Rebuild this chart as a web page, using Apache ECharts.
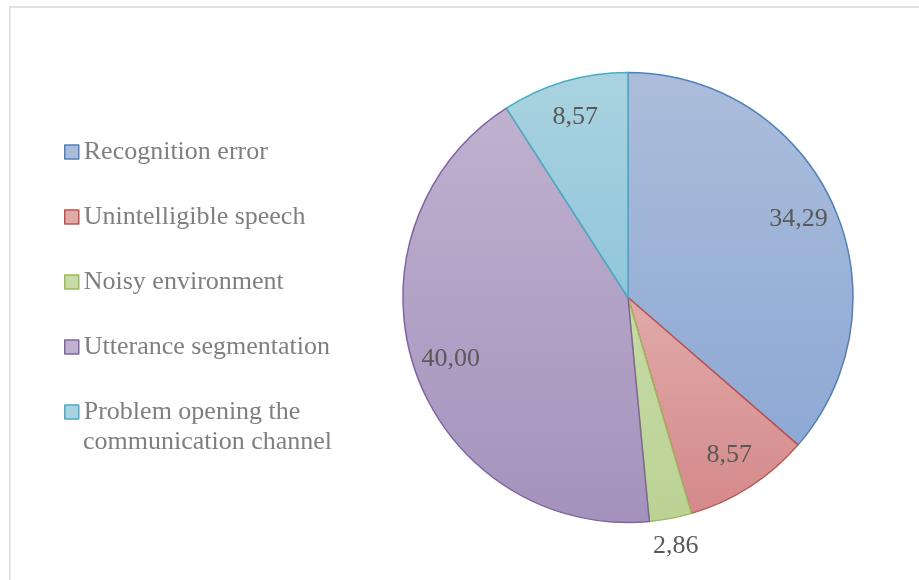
<!DOCTYPE html>
<html>
<head>
<meta charset="utf-8">
<script src="https://cdn.jsdelivr.net/npm/echarts@6/dist/echarts.min.js"></script>
<style>
  html, body { margin: 0; padding: 0; background: #fff; }
  #chart { width: 919px; height: 580px; }
</style>
</head>
<body>
<div id="chart"></div>
<script>
// categories and values (percent), clockwise from 12 o'clock
var categories = [
  'Recognition error',
  'Unintelligible speech',
  'Noisy environment',
  'Utterance segmentation',
  'Problem opening the communication channel'
];
var values = [34.29, 8.57, 2.86, 40.00, 8.57];

// slice colours: gradient top, gradient bottom, border
var topColors = ['#abbdda', '#e0aaa9', '#c7daa8', '#bfb1cf', '#aad3e0'];
var bottomColors = ['#8ea9d5', '#d5898a', '#bcd294', '#a492bc', '#90c6da'];
var borderColors = ['#4f81bd', '#c0504d', '#9bbb59', '#8064a2', '#4bacc6'];

var FONT = '"Liberation Serif", "Times New Roman", serif';
var CX = 628, CY = 297.5, R = 225;
var LEGEND_LEFT = 64, LEGEND_TOP = 137, LINE_H = 30, ITEM_GAP = 35;

// long legend name wraps after this many words, icon stays on line one
var WRAP_WORDS = 3;

function fmt(v) {
  return v.toFixed(2).replace('.', ',');
}

var pieData = categories.map(function (name, i) {
  return {
    name: name,
    value: values[i],
    itemStyle: {
      color: new echarts.graphic.LinearGradient(0, 0, 0, 1, [
        { offset: 0, color: topColors[i] },
        { offset: 1, color: bottomColors[i] }
      ]),
      borderColor: borderColors[i],
      borderWidth: 1.5
    }
  };
});

// transparent copies only used to place the value labels
function labelData(showIdx) {
  return categories.map(function (name, i) {
    return { name: name, value: values[i], label: { show: showIdx(i) } };
  });
}

var legendData = categories.map(function (name, i) {
  return { name: name, itemStyle: { color: topColors[i], borderColor: borderColors[i], borderWidth: 1.5 } };
});

function firstLine(name) {
  var w = name.split(' ');
  return w.length > 4 ? w.slice(0, WRAP_WORDS).join(' ') : name;
}
function restLine(name) {
  var w = name.split(' ');
  return w.length > 4 ? w.slice(WRAP_WORDS).join(' ') : '';
}

var lastName = categories[categories.length - 1];
var itemStep = LINE_H + ITEM_GAP;
var valueLabel = {
  position: 'inside',
  fontFamily: FONT,
  fontSize: 26,
  color: '#595959',
  formatter: function (p) { return fmt(p.value); }
};

var chart = echarts.init(document.getElementById('chart'));
chart.setOption({
  animation: false,
  graphic: [
    {
      type: 'rect',
      silent: true,
      shape: { x: 9.75, y: 7, width: 1000, height: 1000 },
      style: { fill: 'none', stroke: '#d9d9d9', lineWidth: 1.5 }
    },
    {
      // second line of the wrapped legend entry
      type: 'text',
      silent: true,
      x: LEGEND_LEFT + 14 + 5,
      y: LEGEND_TOP + LINE_H / 2 + (categories.length - 1) * itemStep + LINE_H,
      style: {
        text: restLine(lastName),
        fontFamily: FONT,
        fontSize: 26,
        fill: '#7f7f7f',
        verticalAlign: 'middle'
      }
    }
  ],
  legend: {
    orient: 'vertical',
    left: LEGEND_LEFT,
    top: LEGEND_TOP,
    padding: 0,
    itemWidth: 14,
    itemHeight: 14,
    itemGap: ITEM_GAP,
    icon: 'rect',
    selectedMode: false,
    data: legendData,
    formatter: firstLine,
    textStyle: {
      fontFamily: FONT,
      fontSize: 26,
      lineHeight: LINE_H,
      color: '#7f7f7f'
    }
  },
  series: [
    {
      type: 'pie',
      center: [CX, CY],
      radius: R,
      startAngle: 90,
      clockwise: true,
      label: { show: false },
      labelLine: { show: false },
      emphasis: { disabled: true },
      data: pieData
    },
    {
      type: 'pie',
      silent: true,
      center: [CX, CY],
      radius: R * 0.82 * 2,
      startAngle: 90,
      itemStyle: { color: 'transparent', borderWidth: 0 },
      label: valueLabel,
      labelLine: { show: false },
      emphasis: { disabled: true },
      data: labelData(function (i) { return i !== 2; })
    },
    {
      type: 'pie',
      silent: true,
      center: [CX, CY],
      radius: R * 1.11 * 2,
      startAngle: 90,
      itemStyle: { color: 'transparent', borderWidth: 0 },
      label: valueLabel,
      labelLine: { show: false },
      emphasis: { disabled: true },
      data: labelData(function (i) { return i === 2; })
    }
  ]
});
</script>
</body>
</html>
